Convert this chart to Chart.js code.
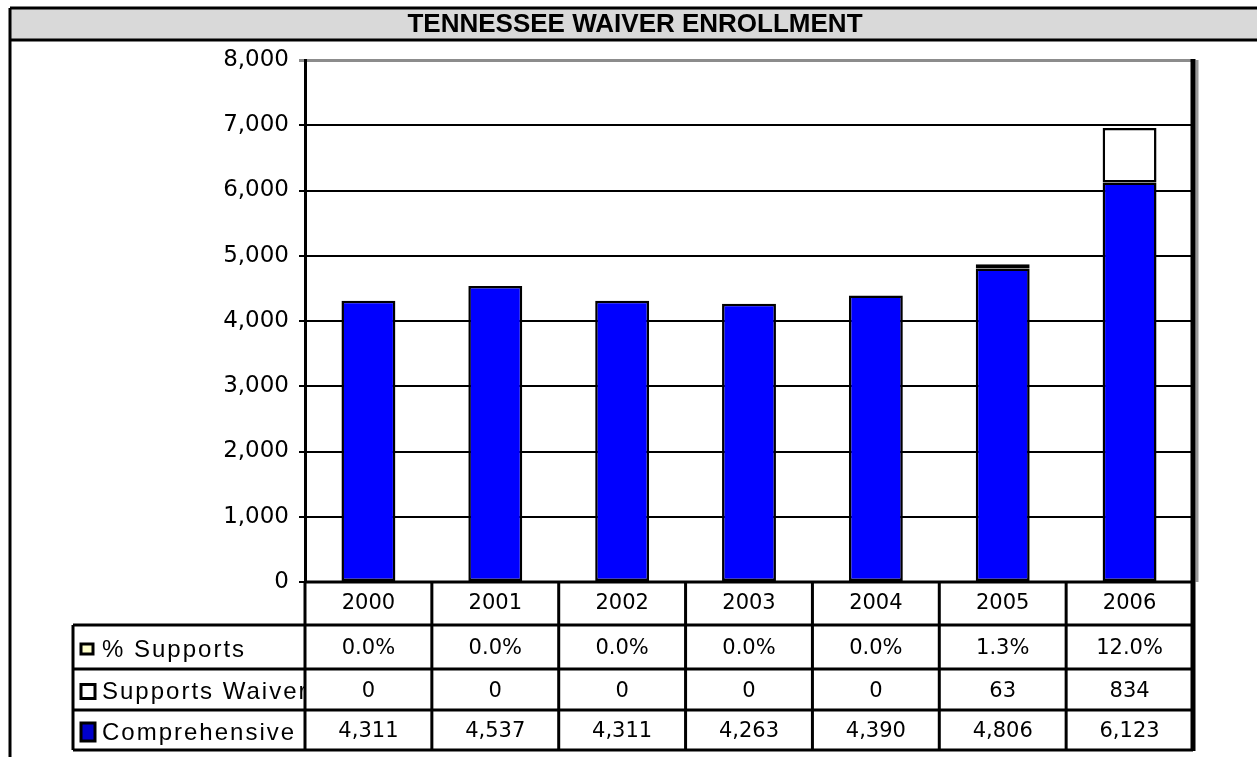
<!DOCTYPE html>
<html>
<head>
<meta charset="utf-8">
<script src="https://cdn.jsdelivr.net/npm/chart.js@4.4.1/dist/chart.umd.min.js"></script>
<style>
  html, body { margin: 0; padding: 0; background: #fff; }
  #wrap { width: 1257px; height: 757px; position: relative; }
</style>
</head>
<body>
<div id="wrap"><canvas id="waiverChart"></canvas></div>
<script>
// Data
const years = ['2000', '2001', '2002', '2003', '2004', '2005', '2006'];
const comprehensive = [4311, 4537, 4311, 4263, 4390, 4806, 6123];
const supportsWaiver = [0, 0, 0, 0, 0, 63, 834];
const pctSupports = [0.0, 0.0, 0.0, 0.0, 0.0, 1.3, 12.0];
const rowLabels = ['% Supports', 'Supports Waiver', 'Comprehensive'];
const chartTitle = 'TENNESSEE WAIVER ENROLLMENT';
const yMin = 0;
const yMax = 8000;
const yStep = 1000;

const FONT = '"DejaVu Sans", Arial, sans-serif';
const LABEL_FONT = '"Liberation Sans", Arial, sans-serif';

// Gray title bar and the left frame line
const framePlugin = {
  id: 'frame',
  beforeDraw(chart) {
    const ctx = chart.ctx;
    ctx.save();
    ctx.fillStyle = '#fff';
    ctx.fillRect(0, 0, chart.width, chart.height);
    ctx.fillStyle = '#d9d9d9';
    ctx.fillRect(10, 8, chart.width - 10, 32);
    ctx.strokeStyle = '#000';
    ctx.lineWidth = 3;
    ctx.beginPath();
    ctx.moveTo(10, 8); ctx.lineTo(chart.width, 8);
    ctx.moveTo(10, 40); ctx.lineTo(chart.width, 40);
    ctx.moveTo(10, 8); ctx.lineTo(10, chart.height);
    ctx.stroke();
    ctx.fillStyle = '#000';
    ctx.font = 'bold 26px ' + LABEL_FONT;
    ctx.textAlign = 'center';
    ctx.textBaseline = 'middle';
    ctx.fillText(chartTitle, 635, 25);
    ctx.restore();
  }
};

// Data table under the plot, columns taken from the x scale
const tablePlugin = {
  id: 'dataTable',
  afterDraw(chart) {
    const { ctx, chartArea } = chart;
    const xs = chart.scales.x;
    const n = years.length;
    const colW = (chartArea.right - chartArea.left) / n;
    const top = chartArea.bottom;
    const rowTops = [top, top + 43, top + 87, top + 128, top + 168];
    const legendLeft = 73;
    const right = chartArea.right;

    const rows = [
      years,
      pctSupports.map(v => v.toFixed(1) + '%'),
      supportsWaiver.map(v => v.toLocaleString('en-US')),
      comprehensive.map(v => v.toLocaleString('en-US'))
    ];

    ctx.save();
    ctx.fillStyle = '#000';
    ctx.textAlign = 'center';
    ctx.textBaseline = 'middle';
    ctx.font = '21px ' + FONT;
    rows.forEach((row, r) => {
      const yMid = (rowTops[r] + rowTops[r + 1]) / 2 + (r === 0 ? 0 : 2);
      row.forEach((txt, i) => {
        ctx.fillText(txt, xs.getPixelForValue(i), yMid);
      });
    });

    // legend column (text clipped like the original cell)
    const markers = [
      { fill: '#ffffcc', w: 12, h: 10 },
      { fill: '#ffffff', w: 14, h: 14 },
      { fill: '#0000cc', w: 14, h: 18 }
    ];
    ctx.save();
    ctx.beginPath();
    ctx.rect(legendLeft, rowTops[1], chartArea.left - legendLeft - 1, rowTops[4] - rowTops[1]);
    ctx.clip();
    rowLabels.forEach((label, k) => {
      const r = k + 1;
      const yMid = (rowTops[r] + rowTops[r + 1]) / 2 + 2;
      const m = markers[k];
      ctx.fillStyle = m.fill;
      ctx.fillRect(81, yMid - m.h / 2, m.w, m.h);
      ctx.strokeStyle = '#000';
      ctx.lineWidth = 3;
      ctx.strokeRect(81, yMid - m.h / 2, m.w, m.h);
      ctx.fillStyle = '#000';
      ctx.textAlign = 'left';
      ctx.font = '24px ' + LABEL_FONT;
      if ('letterSpacing' in ctx) ctx.letterSpacing = '2px';
      ctx.fillText(label, 102, yMid + 1);
    });
    ctx.restore();

    // grid lines of the table
    ctx.strokeStyle = '#000';
    ctx.lineWidth = 3;
    ctx.beginPath();
    ctx.moveTo(chartArea.left, rowTops[0]); ctx.lineTo(right, rowTops[0]);
    for (let r = 1; r < rowTops.length; r++) {
      ctx.moveTo(legendLeft, rowTops[r]); ctx.lineTo(right, rowTops[r]);
    }
    for (let i = 0; i < n; i++) {
      const x = chartArea.left + i * colW;
      ctx.moveTo(x, rowTops[0]); ctx.lineTo(x, rowTops[4]);
    }
    ctx.moveTo(legendLeft, rowTops[1]); ctx.lineTo(legendLeft, rowTops[4]);
    ctx.stroke();

    // heavy right border with gray shadow
    ctx.strokeStyle = '#999';
    ctx.lineWidth = 3;
    ctx.beginPath();
    ctx.moveTo(right + 4, chartArea.top); ctx.lineTo(right + 4, rowTops[0]);
    ctx.stroke();
    ctx.strokeStyle = '#000';
    ctx.lineWidth = 5;
    ctx.beginPath();
    ctx.moveTo(right, chartArea.top - 1); ctx.lineTo(right, rowTops[4] + 1);
    ctx.stroke();
    ctx.restore();
  }
};

const ctx = document.getElementById('waiverChart').getContext('2d');
new Chart(ctx, {
  type: 'bar',
  data: {
    labels: years,
    datasets: [
      {
        label: 'Comprehensive',
        data: comprehensive,
        backgroundColor: '#0000ff',
        borderColor: '#000',
        borderWidth: 2.5,
        borderSkipped: false
      },
      {
        label: 'Supports Waiver',
        data: supportsWaiver,
        backgroundColor: '#ffffff',
        borderColor: '#000',
        borderWidth: 2.5,
        borderSkipped: false
      }
    ]
  },
  options: {
    responsive: true,
    maintainAspectRatio: false,
    animation: false,
    datasets: {
      bar: { categoryPercentage: 1, barPercentage: 0.425 }
    },
    layout: {
      padding: { top: 60, right: 64, bottom: 175, left: 0 }
    },
    plugins: {
      legend: { display: false },
      title: { display: false },
      tooltip: { enabled: false }
    },
    scales: {
      x: {
        stacked: true,
        display: false,
        offset: true
      },
      y: {
        stacked: true,
        min: yMin,
        max: yMax,
        ticks: {
          stepSize: yStep,
          color: '#000',
          padding: 10,
          font: { family: FONT, size: 23 },
          callback: v => v.toLocaleString('en-US')
        },
        grid: {
          color: c => (c.tick && c.tick.value === yMax ? '#8c8c8c' : '#000'),
          lineWidth: c => (c.tick && c.tick.value === yMax ? 3 : 2),
          tickLength: 6
        },
        border: { display: true, color: '#000', width: 3 },
        afterFit(scale) {
          scale.width = 305;
        }
      }
    }
  },
  plugins: [framePlugin, tablePlugin]
});
</script>
</body>
</html>
